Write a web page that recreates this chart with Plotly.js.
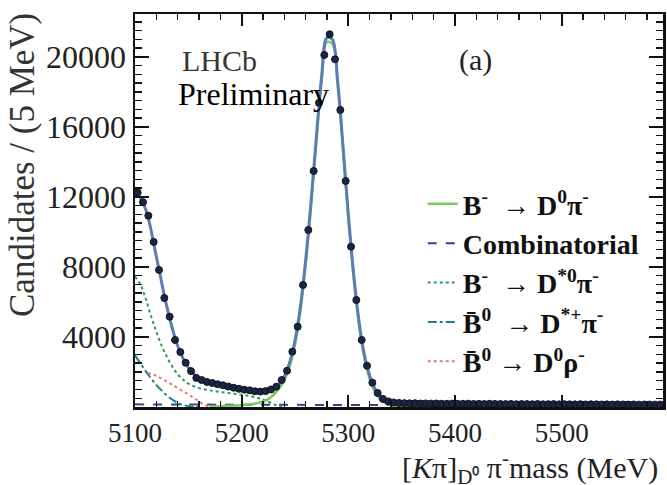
<!DOCTYPE html>
<html>
<head>
<meta charset="utf-8">
<script src="https://cdn.plot.ly/plotly-3.0.1.min.js"></script>
<style>html,body{margin:0;padding:0;background:#fff;}#chart{width:667px;height:485px;}</style>
</head>
<body>
<div id="chart"></div>
<script>
// ---- data ----
const firstBinCenter = 5102.5;
const binWidth = 5;
const candidates = [
  12250, 11700, 10930, 9430, 7830, 6230, 5160, 3830, 3140, 2530,
  2050, 1660, 1540, 1430, 1370, 1300, 1240, 1170, 1100, 1040,
  990, 950, 900, 880, 910, 1000, 1160, 1540, 2070, 3160,
  4590, 6970, 10110, 13480, 17380, 20110, 21290, 19860, 16970, 12910,
  9160, 6110, 3830, 2360, 1390, 800, 460, 320, 260,
  230, 220, 210, 215, 200, 205, 195, 200, 190, 185,
  195, 180, 185, 190, 175, 180, 170, 185, 175, 170,
  165, 175, 160, 170, 165, 160, 170, 155, 160, 165,
  150, 160, 155, 150, 160, 145, 155, 150, 145, 150,
  140, 150, 145, 140, 145, 135, 145, 140, 135, 140, 130
];
const binCenters = candidates.map((_, i) => firstBinCenter + binWidth * i);

const fitMass  = [5100, 5110, 5120, 5130, 5140, 5150, 5160, 5170, 5180, 5190, 5200, 5210, 5215, 5220, 5225, 5230, 5235, 5240, 5245, 5250, 5255, 5260, 5265, 5270, 5275, 5280, 5285, 5290, 5295, 5300, 5305, 5310, 5315, 5320, 5325, 5330, 5340, 5350, 5375, 5400, 5450, 5500, 5550, 5595];
const fitTotal = [12450, 11300, 8600, 5700, 3500, 2250, 1650, 1420, 1270, 1130, 1010, 920, 890, 890, 950, 1060, 1300, 1750, 2550, 3800, 5700, 8400, 11700, 15400, 18900, 21100, 21000, 18600, 14900, 11000, 7600, 4900, 3000, 1800, 1050, 620, 290, 220, 190, 180, 165, 155, 145, 135];

const sigMass = [5170, 5185, 5195, 5200, 5205, 5210, 5215, 5220, 5225, 5230, 5235, 5240, 5245, 5250, 5255, 5260, 5265, 5270, 5275, 5280, 5285, 5290, 5295, 5300, 5305, 5310, 5315, 5320, 5325, 5330, 5340, 5350, 5375, 5400];
const sigVals = [20, 50, 80, 100, 130, 170, 220, 300, 450, 700, 1050, 1520, 2300, 3550, 5450, 8150, 11450, 15150, 18650, 20850, 20750, 18400, 14700, 10800, 7400, 4700, 2800, 1600, 860, 430, 100, 25, 0, 0];

const combMass = [5100, 5200, 5300, 5400, 5500, 5595];
const combVals = [150, 130, 115, 100, 90, 80];

const dst0Mass = [5100, 5105, 5110, 5115, 5120, 5125, 5130, 5135, 5140, 5145, 5150, 5160, 5170, 5180, 5190, 5200, 5210, 5220, 5225, 5230, 5235, 5240];
const dst0Vals = [7450, 7000, 6200, 5200, 4300, 3500, 2850, 2300, 1870, 1560, 1330, 1080, 950, 860, 780, 700, 600, 430, 300, 160, 50, 0];

const dstpMass = [5100, 5105, 5110, 5115, 5120, 5125, 5130, 5135, 5140, 5145, 5150, 5155, 5160];
const dstpVals = [2950, 2500, 2050, 1650, 1250, 950, 650, 420, 250, 120, 50, 10, 0];

const rhoMass = [5112, 5120, 5130, 5140, 5150, 5158, 5165, 5170, 5175];
const rhoVals = [1950, 1780, 1450, 1080, 720, 400, 130, 20, 0];

const legendNames = [
  '<b>B<sup>-</sup>  → D<sup>0</sup>π<sup>-</sup></b>',
  '<b>Combinatorial</b>',
  '<b>B<sup>-</sup>  → D<sup>*0</sup>π<sup>-</sup></b>',
  '<b>B\u0304<sup>0</sup>  → D<sup>*+</sup>π<sup>-</sup></b>',
  '<b>B\u0304<sup>0</sup> → D<sup>0</sup>ρ<sup>-</sup></b>'
];
const yTickVals = [4000, 8000, 12000, 16000, 20000];
const xTickVals = [5100, 5200, 5300, 5400, 5500];

const serif = 'Liberation Serif, Times New Roman, serif';

const traces = [
  {x: combMass, y: combVals, mode: 'lines', line: {color: '#3b418f', width: 2, dash: 'dash', shape: 'spline'}, name: legendNames[1], legendgroup: 'b', legendrank: 2},
  {x: dst0Mass, y: dst0Vals, mode: 'lines', line: {color: '#2f9a55', width: 2, dash: 'dot', shape: 'spline'}, name: legendNames[2], legendgroup: 'c', legendrank: 3},
  {x: dstpMass, y: dstpVals, mode: 'lines', line: {color: '#1f8088', width: 2, dash: 'dashdot', shape: 'spline'}, name: legendNames[3], legendgroup: 'd', legendrank: 4},
  {x: rhoMass, y: rhoVals, mode: 'lines', line: {color: '#ee7777', width: 2, dash: 'dot', shape: 'spline'}, name: legendNames[4], legendgroup: 'e', legendrank: 5},
  {x: sigMass, y: sigVals, mode: 'lines', line: {color: '#7cc95c', width: 2.5, shape: 'spline'}, name: legendNames[0], legendgroup: 'a', legendrank: 1},
  {x: fitMass, y: fitTotal, mode: 'lines', line: {color: '#5a7db8', width: 3, shape: 'spline'}, showlegend: false},
  {x: binCenters, y: candidates, mode: 'markers', marker: {color: '#1b2542', size: 7, line: {color: '#0d1426', width: 1}}, showlegend: false}
];

const layout = {
  width: 667, height: 485,
  margin: {l: 135, r: 4, t: 14, b: 78},
  paper_bgcolor: '#ffffff', plot_bgcolor: '#ffffff',
  showlegend: true,
  legend: {x: 0.545, y: 0.58, xanchor: 'left', yanchor: 'top', bgcolor: 'rgba(0,0,0,0)',
           font: {family: serif, size: 28, color: '#111'}, tracegroupgap: 3, traceorder: 'normal'},
  xaxis: {
    range: [5100, 5595], tickmode: 'array', tickvals: xTickVals, ticktext: xTickVals.map(String),
    ticks: 'inside', ticklen: 12, tickwidth: 2, tickcolor: '#111',
    minor: {dtick: 20, tick0: 5100, ticks: 'inside', ticklen: 6, tickwidth: 1.5, tickcolor: '#111'},
    showline: true, linewidth: 2.5, linecolor: '#111', mirror: 'allticks',
    showgrid: false, zeroline: false,
    tickfont: {family: serif, size: 27, color: '#222'}
  },
  yaxis: {
    range: [0, 22450], tickmode: 'array', tickvals: yTickVals, ticktext: yTickVals.map(String),
    ticks: 'inside', ticklen: 14, tickwidth: 2, tickcolor: '#111',
    minor: {dtick: 500, tick0: 0, ticks: 'inside', ticklen: 7, tickwidth: 1.5, tickcolor: '#111'},
    showline: true, linewidth: 2.5, linecolor: '#111', mirror: 'allticks',
    showgrid: false, zeroline: false,
    tickfont: {family: serif, size: 32, color: '#222'}
  },
  annotations: [
    {xref: 'paper', yref: 'paper', x: -0.212, y: 0.616, text: 'Candidates / (5 MeV)', textangle: -90, showarrow: false,
     xanchor: 'center', yanchor: 'middle', font: {family: serif, size: 35, color: '#333'}},
    {xref: 'paper', yref: 'paper', x: 0.995, y: -0.153, text: '[<i>K</i>π]<sub>D\u2070</sub> π<sup>-</sup>mass (MeV)', showarrow: false,
     xanchor: 'right', yanchor: 'middle', font: {family: serif, size: 30, color: '#222'}},
    {xref: 'paper', yref: 'paper', x: (180 - 135) / 528, y: (407 - 60) / 393, text: 'LHCb', showarrow: false,
     xanchor: 'left', yanchor: 'middle', font: {family: serif, size: 30, color: '#3a3530'}},
    {xref: 'paper', yref: 'paper', x: (176 - 135) / 528, y: (407 - 94) / 393, text: 'Preliminary', showarrow: false,
     xanchor: 'left', yanchor: 'middle', font: {family: serif, size: 32, color: '#000'}},
    {xref: 'paper', yref: 'paper', x: (475 - 135) / 528, y: (407 - 60) / 393, text: '(a)', showarrow: false,
     xanchor: 'center', yanchor: 'middle', font: {family: serif, size: 30, color: '#222'}}
  ]
};

Plotly.newPlot('chart', traces, layout, {staticPlot: true, displayModeBar: false});
</script>
</body>
</html>
